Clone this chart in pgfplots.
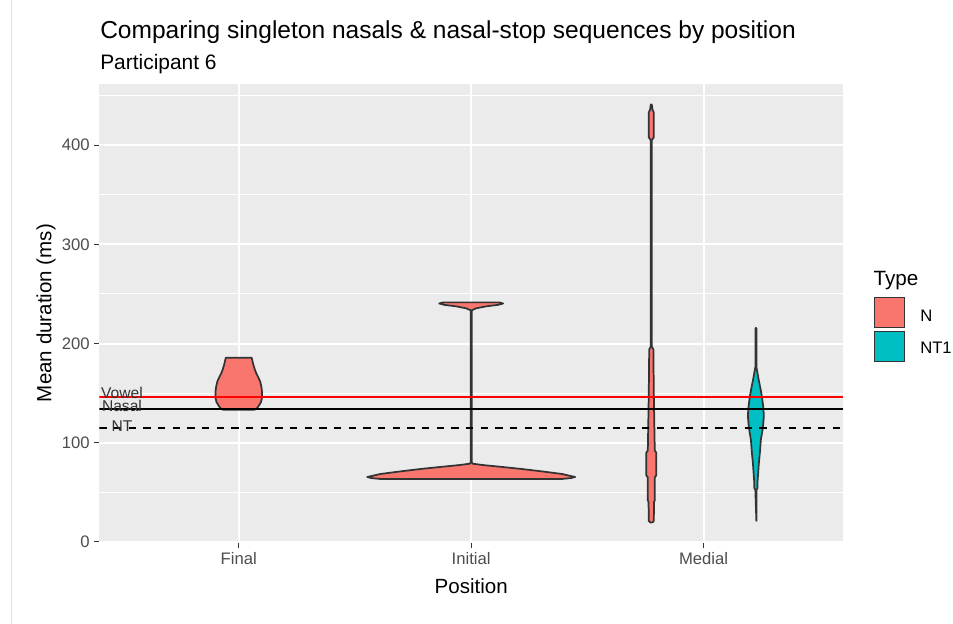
\documentclass[border=0pt]{standalone}
\usepackage{fontspec}
\setmainfont{Liberation Sans}
\usepackage{pgfplots}
\pgfplotsset{compat=1.18}
\definecolor{nfill}{HTML}{F8766D}
\definecolor{tfill}{HTML}{00BFC4}
\definecolor{panel}{HTML}{EBEBEB}
\definecolor{outl}{HTML}{333333}
\definecolor{ticklab}{HTML}{4D4D4D}
\begin{document}
\begin{tikzpicture}
\path[use as bounding box] (0,0) rectangle (714.75pt,-468pt);
\fill[white] (0,0) rectangle (714.75pt,-468pt);
\begin{scope}[x=0.75pt,y=-0.75pt]
\draw[color=black!12, line width=0.75pt] (11.5,0) -- (11.5,624);
\coordinate (P) at (99.3,542.5);
\end{scope}
\begin{axis}[at={(P)}, anchor=south west, scale only axis,
  width=557.8pt, height=343.9pt,
  xmin=0.4, xmax=3.6, ymin=-0.7, ymax=461.8,
  axis background/.style={fill=panel},
  axis line style={draw=none},
  tick pos=left, tick align=outside,
  major tick length=3.75pt, minor tick length=0pt,
  tick style={color=outl, line width=0.8pt},
  xtick={1,2,3}, xticklabels={Final,Initial,Medial},
  ytick={0,100,200,300,400},
  minor ytick={50,150,250,350,450},
  grid=both,
  major grid style={white, line width=1.5pt},
  minor grid style={white, line width=0.75pt},
  ticklabel style={font=\fontsize{12.5}{14}\selectfont, text=ticklab},
  /pgf/number format/assume math mode=true,
]
% Final (N)
\addplot[fill=nfill, draw=outl, line width=1.3pt, line join=round] coordinates {
(1.0688,133.3) (1.0796,135) (1.0882,138) (1.0959,141) (1.0998,145) (1.1002,150) (1.0990,154) (1.0959,158) (1.0916,162) (1.0839,166) (1.0753,170) (1.0688,174) (1.0637,178) (1.0594,182) (1.0559,185.6)
(0.9441,185.6) (0.9406,182) (0.9363,178) (0.9312,174) (0.9247,170) (0.9161,166) (0.9084,162) (0.9041,158) (0.9010,154) (0.8998,150) (0.9002,145) (0.9041,141) (0.9118,138) (0.9204,135) (0.9312,133.3) (1.0688,133.3)};
% Initial (N)
\addplot[fill=nfill, draw=outl, line width=1.3pt, line join=round] coordinates {
(2.3871,63.3) (2.4301,64.3) (2.4473,65.4) (2.4258,66.5) (2.3914,68.4) (2.3054,71) (2.2194,73.4) (2.1333,75.5) (2.0473,77.5) (2.0065,78.8) (2.0022,80) (2.0022,233.5) (2.0215,235.5) (2.0645,237.5) (2.1161,239) (2.1376,240.4) (2.1204,241.5)
(1.8796,241.5) (1.8624,240.4) (1.8839,239) (1.9355,237.5) (1.9785,235.5) (1.9978,233.5) (1.9978,80) (1.9935,78.8) (1.9527,77.5) (1.8667,75.5) (1.7806,73.4) (1.6946,71) (1.6086,68.4) (1.5742,66.5) (1.5527,65.4) (1.5699,64.3) (1.6129,63.3) (2.3871,63.3)};
% Medial (N)
\addplot[fill=nfill, draw=outl, line width=1.3pt, line join=round] coordinates {
(2.7793,19.5) (2.7858,21) (2.7868,40) (2.7901,42) (2.7901,65) (2.7965,67) (2.7965,90) (2.7900,92) (2.7879,120) (2.7858,150) (2.7840,194) (2.7772,197) (2.7772,405) (2.7860,408) (2.7860,433) (2.7800,436) (2.7772,441)
(2.7728,441) (2.7700,436) (2.7640,433) (2.7640,408) (2.7728,405) (2.7728,197) (2.7660,194) (2.7642,150) (2.7621,120) (2.7600,92) (2.7535,90) (2.7535,67) (2.7599,65) (2.7599,42) (2.7632,40) (2.7642,21) (2.7707,19.5) (2.7793,19.5)};
% Medial (NT1)
\addplot[fill=tfill, draw=outl, line width=1.3pt, line join=round] coordinates {
(3.2272,20.5) (3.2272,52) (3.2315,54) (3.2325,62) (3.2379,79.5) (3.2422,90) (3.2465,103) (3.2551,115) (3.2594,126.6) (3.2573,135) (3.2508,146.8) (3.2444,155) (3.2358,165) (3.2293,173.7) (3.2272,176) (3.2272,215.6)
(3.2228,215.6) (3.2228,176) (3.2207,173.7) (3.2142,165) (3.2056,155) (3.1992,146.8) (3.1927,135) (3.1906,126.6) (3.1949,115) (3.2035,103) (3.2078,90) (3.2121,79.5) (3.2175,62) (3.2185,54) (3.2228,52) (3.2272,20.5)};
% reference lines
\addplot[red, line width=1.4pt] coordinates {(0.4,146.2) (3.6,146.2)};
\addplot[black, line width=1.4pt] coordinates {(0.4,134.3) (3.6,134.3)};
\addplot[black, line width=1.4pt, dash pattern=on 5.5pt off 5.5pt] coordinates {(0.4,114.8) (3.6,114.8)};
\end{axis}
\begin{scope}[x=0.75pt,y=-0.75pt]
\node[anchor=base, inner sep=0, font=\fontsize{11.7}{13}\selectfont, text=outl] at (122,398) {Vowel};
\node[anchor=base, inner sep=0, font=\fontsize{11.7}{13}\selectfont, text=outl] at (122,411) {Nasal};
\node[anchor=base, inner sep=0, font=\fontsize{11.7}{13}\selectfont, text=outl] at (122,431.7) {NT};
\node[anchor=base west, inner sep=0, font=\fontsize{18.4}{22}\selectfont] at (100,39) {Comparing singleton nasals \& nasal-stop sequences by position};
\node[anchor=base west, inner sep=0, font=\fontsize{15.7}{18}\selectfont] at (100,70) {Participant 6};
\node[rotate=90, inner sep=0, font=\fontsize{15.4}{18}\selectfont] at (46,313) {Mean duration (ms)};
\node[anchor=base, inner sep=0, font=\fontsize{15.4}{18}\selectfont] at (471.2,593.3) {Position};
\node[anchor=base west, inner sep=0, font=\fontsize{15.5}{18}\selectfont] at (873.3,285) {Type};
\filldraw[fill=nfill, draw=outl, line width=1pt] (874.5,297.2) rectangle (904.8,327.8);
\filldraw[fill=tfill, draw=outl, line width=1pt] (874.5,331.5) rectangle (904.8,361.2);
\node[anchor=base west, inner sep=0, font=\fontsize{12.5}{14}\selectfont] at (920,321) {N};
\node[anchor=base west, inner sep=0, font=\fontsize{12.5}{14}\selectfont] at (920,353.3) {NT1};
\end{scope}
\end{tikzpicture}
\end{document}
